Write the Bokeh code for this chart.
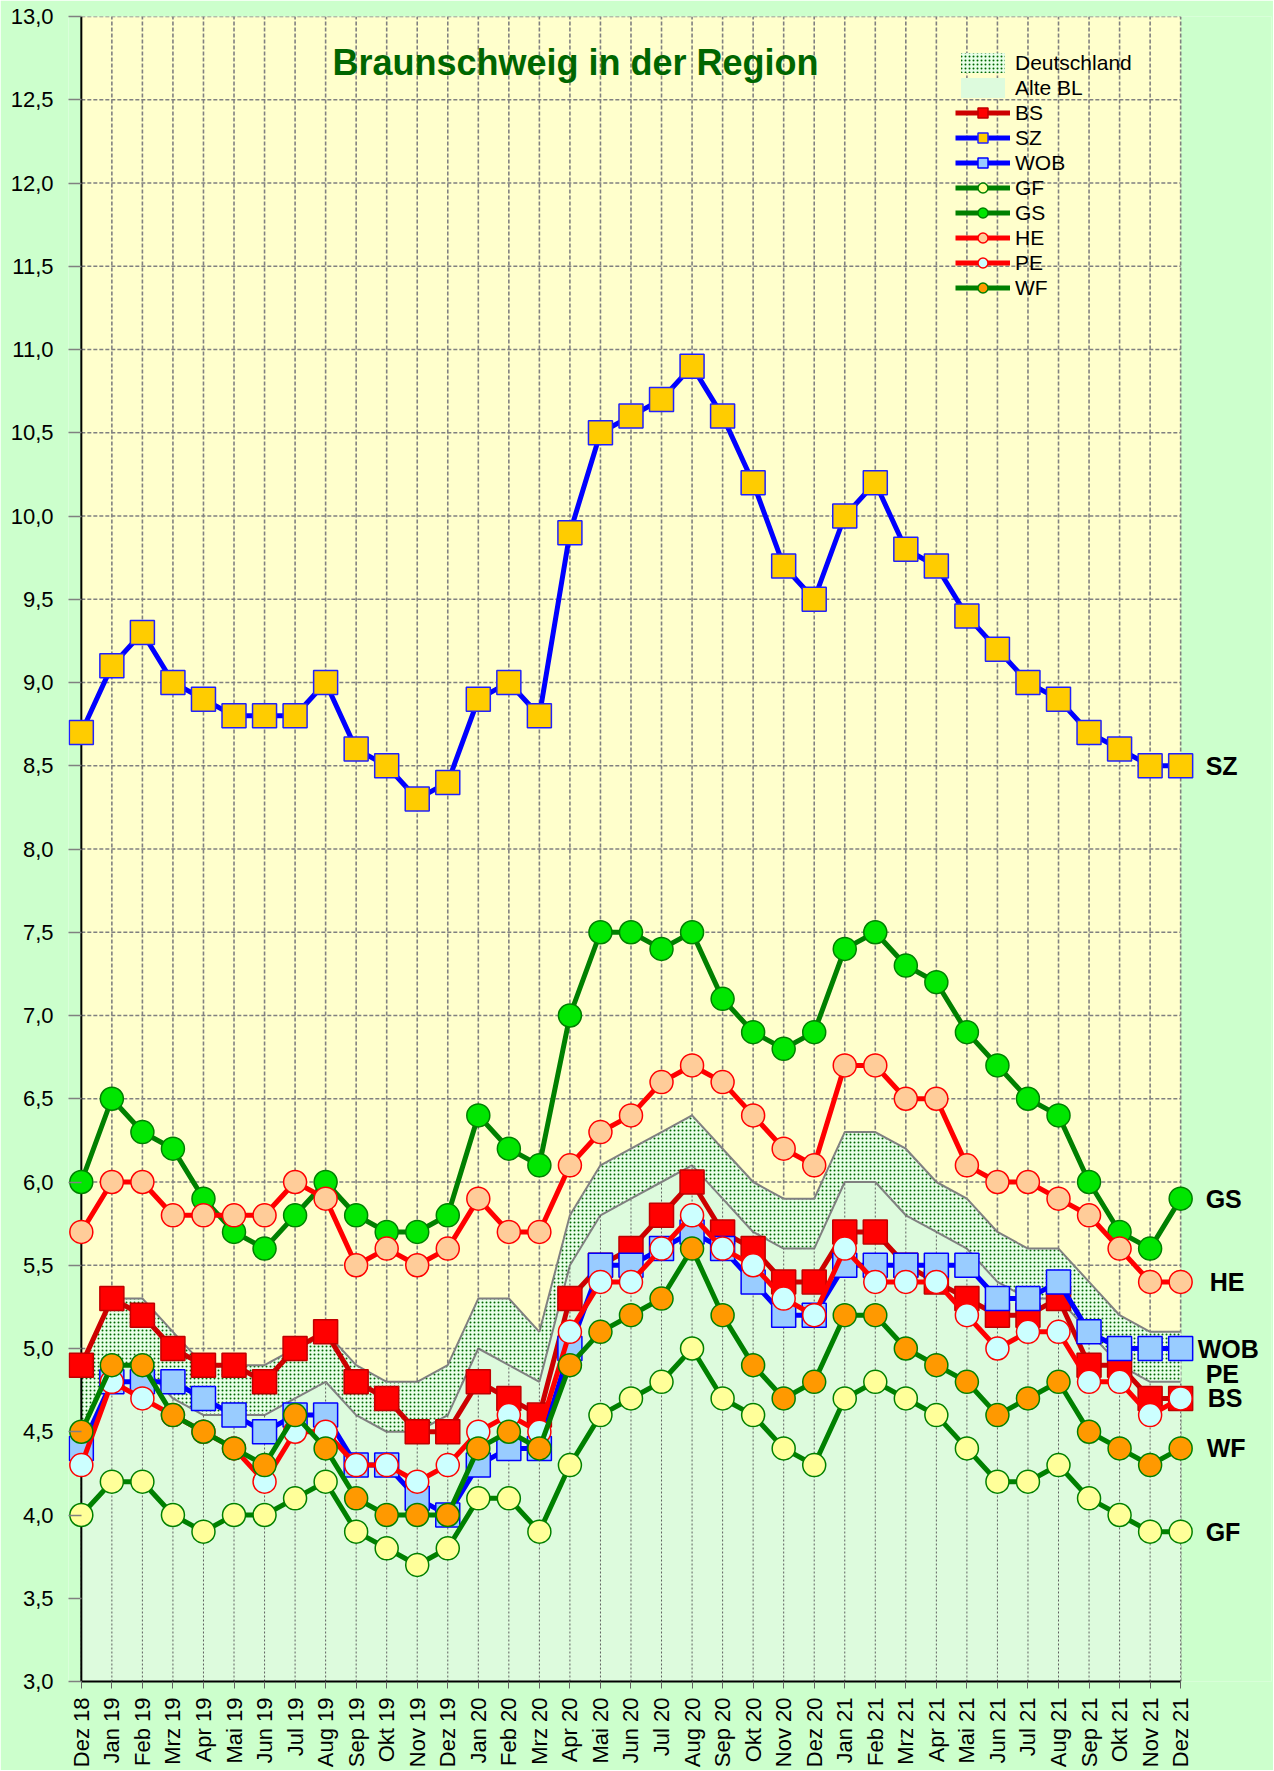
import numpy as np
from bokeh.plotting import figure
from bokeh.models import Range1d, FixedTicker, CustomJSTickFormatter, Legend, LegendItem, Label
from bokeh.embed import file_html
from bokeh.resources import INLINE

# ---------------- data ----------------
months = ["Dez 18", "Jan 19", "Feb 19", "Mrz 19", "Apr 19", "Mai 19", "Jun 19", "Jul 19",
          "Aug 19", "Sep 19", "Okt 19", "Nov 19", "Dez 19", "Jan 20", "Feb 20", "Mrz 20",
          "Apr 20", "Mai 20", "Jun 20", "Jul 20", "Aug 20", "Sep 20", "Okt 20", "Nov 20",
          "Dez 20", "Jan 21", "Feb 21", "Mrz 21", "Apr 21", "Mai 21", "Jun 21", "Jul 21",
          "Aug 21", "Sep 21", "Okt 21", "Nov 21", "Dez 21"]

deutschland = [4.9, 5.3, 5.3, 5.1, 4.9, 4.9, 4.9, 5.0, 5.1, 4.9, 4.8, 4.8, 4.9,
               5.3, 5.3, 5.1, 5.8, 6.1, 6.2, 6.3, 6.4, 6.2, 6.0, 5.9, 5.9,
               6.3, 6.3, 6.2, 6.0, 5.9, 5.7, 5.6, 5.6, 5.4, 5.2, 5.1, 5.1]
alte_bl = [4.5, 4.9, 4.9, 4.7, 4.6, 4.6, 4.6, 4.7, 4.8, 4.6, 4.5, 4.5, 4.6,
           5.0, 4.9, 4.8, 5.5, 5.8, 5.9, 6.0, 6.1, 5.9, 5.7, 5.6, 5.6,
           6.0, 6.0, 5.8, 5.7, 5.6, 5.4, 5.3, 5.3, 5.1, 4.9, 4.8, 4.8]
bs = [4.9, 5.3, 5.2, 5.0, 4.9, 4.9, 4.8, 5.0, 5.1, 4.8, 4.7, 4.5, 4.5,
      4.8, 4.7, 4.6, 5.3, 5.5, 5.6, 5.8, 6.0, 5.7, 5.6, 5.4, 5.4,
      5.7, 5.7, 5.5, 5.4, 5.3, 5.2, 5.2, 5.3, 4.9, 4.9, 4.7, 4.7]
sz = [8.7, 9.1, 9.3, 9.0, 8.9, 8.8, 8.8, 8.8, 9.0, 8.6, 8.5, 8.3, 8.4,
      8.9, 9.0, 8.8, 9.9, 10.5, 10.6, 10.7, 10.9, 10.6, 10.2, 9.7, 9.5,
      10.0, 10.2, 9.8, 9.7, 9.4, 9.2, 9.0, 8.9, 8.7, 8.6, 8.5, 8.5]
wob = [4.4, 4.8, 4.8, 4.8, 4.7, 4.6, 4.5, 4.6, 4.6, 4.3, 4.3, 4.1, 4.0,
       4.3, 4.4, 4.4, 5.0, 5.5, 5.5, 5.6, 5.7, 5.6, 5.4, 5.2, 5.2,
       5.5, 5.5, 5.5, 5.5, 5.5, 5.3, 5.3, 5.4, 5.1, 5.0, 5.0, 5.0]
gf = [4.0, 4.2, 4.2, 4.0, 3.9, 4.0, 4.0, 4.1, 4.2, 3.9, 3.8, 3.7, 3.8,
      4.1, 4.1, 3.9, 4.3, 4.6, 4.7, 4.8, 5.0, 4.7, 4.6, 4.4, 4.3,
      4.7, 4.8, 4.7, 4.6, 4.4, 4.2, 4.2, 4.3, 4.1, 4.0, 3.9, 3.9]
gs = [6.0, 6.5, 6.3, 6.2, 5.9, 5.7, 5.6, 5.8, 6.0, 5.8, 5.7, 5.7, 5.8,
      6.4, 6.2, 6.1, 7.0, 7.5, 7.5, 7.4, 7.5, 7.1, 6.9, 6.8, 6.9,
      7.4, 7.5, 7.3, 7.2, 6.9, 6.7, 6.5, 6.4, 6.0, 5.7, 5.6, 5.9]
he = [5.7, 6.0, 6.0, 5.8, 5.8, 5.8, 5.8, 6.0, 5.9, 5.5, 5.6, 5.5, 5.6,
      5.9, 5.7, 5.7, 6.1, 6.3, 6.4, 6.6, 6.7, 6.6, 6.4, 6.2, 6.1,
      6.7, 6.7, 6.5, 6.5, 6.1, 6.0, 6.0, 5.9, 5.8, 5.6, 5.4, 5.4]
pe = [4.3, 4.8, 4.7, 4.6, 4.5, 4.4, 4.2, 4.5, 4.5, 4.3, 4.3, 4.2, 4.3,
      4.5, 4.6, 4.5, 5.1, 5.4, 5.4, 5.6, 5.8, 5.6, 5.5, 5.3, 5.2,
      5.6, 5.4, 5.4, 5.4, 5.2, 5.0, 5.1, 5.1, 4.8, 4.8, 4.6, 4.7]
wf = [4.5, 4.9, 4.9, 4.6, 4.5, 4.4, 4.3, 4.6, 4.4, 4.1, 4.0, 4.0, 4.0,
      4.4, 4.5, 4.4, 4.9, 5.1, 5.2, 5.3, 5.6, 5.2, 4.9, 4.7, 4.8,
      5.2, 5.2, 5.0, 4.9, 4.8, 4.6, 4.7, 4.8, 4.5, 4.4, 4.3, 4.4]

y_ticks = [3.0, 3.5, 4.0, 4.5, 5.0, 5.5, 6.0, 6.5, 7.0, 7.5, 8.0, 8.5, 9.0,
           9.5, 10.0, 10.5, 11.0, 11.5, 12.0, 12.5, 13.0]

# ---------------- figure ----------------
x = list(range(len(months)))
x_last = x[-1]
y_lo, y_hi = y_ticks[0], y_ticks[-1]

FONT = "Liberation Sans"
OUTER = "#CCFFCC"
INNER = "#FFFFCC"

PX_PER_MONTH = 30.537
FRAME_W = 1203
x_start = -0.42
x_end = x_start + FRAME_W / PX_PER_MONTH

p = figure(frame_width=FRAME_W, frame_height=1665,
           x_range=Range1d(x_start, x_end), y_range=Range1d(y_lo, y_hi),
           output_backend="svg", toolbar_location=None,
           min_border_left=68, min_border_right=2, min_border_top=16, min_border_bottom=88,
           background_fill_color=OUTER, border_fill_color=OUTER, outline_line_color=None)
p.xgrid.visible = False
p.ygrid.visible = False

# plot area background
p.quad(left=x[0], right=x_last, bottom=y_lo, top=y_hi, fill_color=INNER, line_color=None)

# grid lines
hy = y_ticks[1:]
p.segment(x0=[x[0]] * len(hy), y0=hy, x1=[x_last] * len(hy), y1=hy,
          line_color="#808080", line_width=1.6, line_dash="4 2")
p.segment(x0=x[1:], y0=[y_lo] * (len(x) - 1), x1=x[1:], y1=[y_hi] * (len(x) - 1),
          line_color="#808080", line_width=1.6, line_dash="4 2")

# areas
de_area = p.varea(x=x, y1=[y_lo] * len(x), y2=deutschland, fill_color="#E8FFE8",
                  hatch_pattern=".", hatch_color="#006600", hatch_scale=4, hatch_weight=2)
p.line(x, deutschland, line_color="#808080", line_width=2)
abl_area = p.varea(x=x, y1=[y_lo] * len(x), y2=alte_bl, fill_color="#DDFBDD")
p.line(x, alte_bl, line_color="#808080", line_width=2)
# drop lines over areas
p.segment(x0=x, y0=[y_lo] * len(x), x1=x, y1=alte_bl,
          line_color="#606060", line_width=1, line_dash="2 2")

# left axis line
p.line(x=[x[0], x[0]], y=[y_lo, y_hi], line_color="black", line_width=2)

series = [
    ("BS", bs, "#CC0000", "square", "#FF0000", "#C00000", 24),
    ("SZ", sz, "#0000FF", "square", "#FFCC00", "#2020FF", 24),
    ("WOB", wob, "#0000FF", "square", "#99CCFF", "#0000FF", 24),
    ("GF", gf, "#008000", "circle", "#FFFF99", "#008000", 23),
    ("GS", gs, "#008000", "circle", "#00E600", "#008000", 23),
    ("HE", he, "#FF0000", "circle", "#FFCC99", "#FF0000", 23),
    ("PE", pe, "#FF0000", "circle", "#CCFFFF", "#FF0000", 23),
    ("WF", wf, "#008000", "circle", "#FF9900", "#008000", 23),
]

items = [LegendItem(label="Deutschland", renderers=[de_area]),
         LegendItem(label="Alte BL", renderers=[abl_area])]
for name, vals, lc, marker, fc, ec, sz_ in series:
    r1 = p.line(x, vals, line_color=lc, line_width=5)
    r2 = p.scatter(x, vals, marker=marker, size=sz_, fill_color=fc, line_color=ec, line_width=1.5)
    items.append(LegendItem(label=name, renderers=[r1, r2]))

legend = Legend(items=items, location=(887, 1381), padding=0, spacing=0, margin=0,
                glyph_width=55, glyph_height=25, label_height=25, label_standoff=5,
                label_text_font=FONT, label_text_font_size="21px", label_text_color="black",
                background_fill_alpha=0, border_line_alpha=0)
p.add_layout(legend)

# title inside plot
p.add_layout(Label(x=16.18, y=12.724, text="Braunschweig in der Region", text_align="center",
                   text_baseline="alphabetic", text_font=FONT, text_font_style="bold",
                   text_font_size="36px", text_color="#006600"))

# right-hand labels
right_labels = [("SZ", sz, 25, 0), ("GS", gs, 25, 0), ("HE", he, 29, 0), ("WOB", wob, 17, 0),
                ("PE", pe, 25, 24), ("BS", bs, 27, 0), ("WF", wf, 26, 0), ("GF", gf, 25, 0)]
for name, vals, xo, yo in right_labels:
    p.add_layout(Label(x=x_last, y=vals[-1], x_offset=xo, y_offset=yo, text=name,
                       text_baseline="middle", text_align="left", text_font=FONT,
                       text_font_style="bold", text_font_size="25px", text_color="black"))

# axes
p.yaxis.ticker = FixedTicker(ticks=y_ticks)
p.yaxis.formatter = CustomJSTickFormatter(code="return tick.toFixed(1).replace('.', ',');")
p.yaxis.axis_line_color = None
p.yaxis.major_tick_in = 13
p.yaxis.major_tick_out = 0
p.yaxis.major_tick_line_color = "#808080"
p.yaxis.major_tick_line_width = 1.5
p.yaxis.minor_tick_line_color = None
p.yaxis.major_label_standoff = 15
p.yaxis.major_label_text_font = FONT
p.yaxis.major_label_text_font_size = "22px"
p.yaxis.major_label_text_color = "black"

p.xaxis.ticker = FixedTicker(ticks=x)
p.xaxis.formatter = CustomJSTickFormatter(args=dict(labels=months),
                                          code="return labels[Math.round(tick)];")
p.xaxis.bounds = (x[0], x_last)
p.xaxis.axis_line_color = "black"
p.xaxis.axis_line_width = 2
p.xaxis.major_tick_in = 0
p.xaxis.major_tick_out = 7
p.xaxis.major_tick_line_color = "#606060"
p.xaxis.minor_tick_line_color = None
p.xaxis.major_label_orientation = np.pi / 2
p.xaxis.major_label_standoff = 9
p.xaxis.major_label_text_font = FONT
p.xaxis.major_label_text_font_size = "22px"
p.xaxis.major_label_text_color = "black"

open("out.html", "w").write(file_html(p, INLINE))
